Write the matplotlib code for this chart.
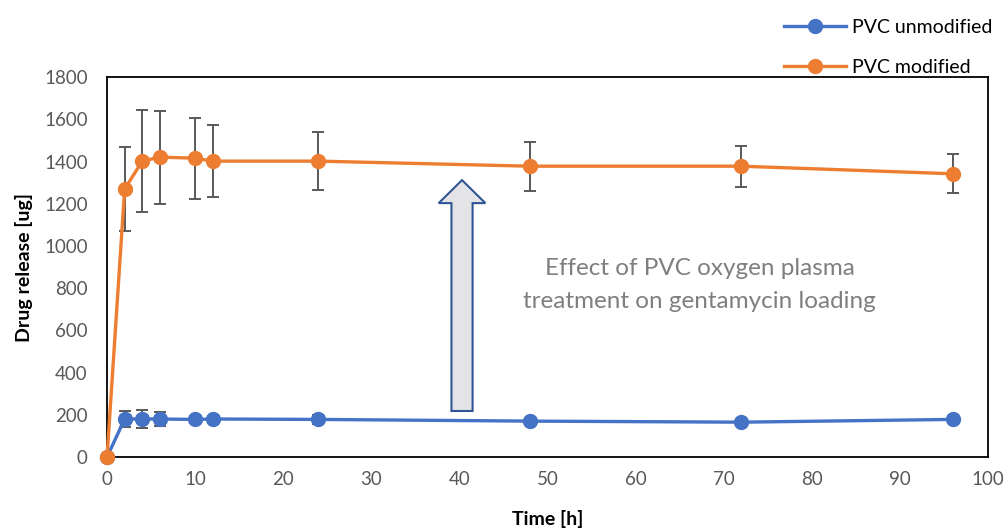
import matplotlib.pyplot as plt
from matplotlib.patches import FancyArrow
from matplotlib.lines import Line2D

# release time points [h]
time_h = [0, 2, 4, 6, 10, 12, 24, 48, 72, 96]

# PVC without plasma treatment
unmod_mean = [0, 180, 180, 180, 178, 180, 178, 170, 165, 178]
unmod_err = [0, 38, 42, 35, 15, 15, 22, 12, 10, 12]

# PVC after oxygen plasma treatment
mod_mean = [0, 1270, 1402, 1421, 1416, 1402, 1402, 1378, 1378, 1342]
mod_err = [0, 200, 242, 220, 192, 170, 137, 116, 97, 92]

plt.rcParams['font.family'] = ['Lato', 'DejaVu Sans']

fig = plt.figure(figsize=(10.06, 5.32), dpi=100)
ax = fig.add_axes([0.1064, 0.141, 0.8756, 0.714])

blue = '#4472C4'
orange = '#ED7D31'

ax.errorbar(time_h, unmod_mean, yerr=unmod_err, color=blue, lw=2.4,
            marker='o', ms=10, ecolor='#595959', elinewidth=1.4, capsize=4,
            capthick=1.4, clip_on=False, zorder=3)
ax.errorbar(time_h, mod_mean, yerr=mod_err, color=orange, lw=2.4,
            marker='o', ms=10, ecolor='#595959', elinewidth=1.4, capsize=4,
            capthick=1.4, clip_on=False, zorder=4)

# arrow showing the gain from the plasma treatment
ax.add_patch(FancyArrow(40.3, 218, 0, 1094, width=2.4, head_width=5.3,
                        head_length=109, length_includes_head=True,
                        facecolor='#e4e4e6', edgecolor='#2f5597', lw=1.5,
                        zorder=2))
ax.text(67.3, 815, 'Effect of PVC oxygen plasma\ntreatment on gentamycin loading',
        ha='center', va='center', fontsize=17.5, color='#7f7f7f',
        linespacing=1.75)

ax.set_xlim(0, 100)
ax.set_ylim(0, 1800)
ax.set_xticks(range(0, 101, 10))
ax.set_yticks(range(0, 1801, 200))
ax.tick_params(axis='y', length=0, labelsize=13.5, labelcolor='#595959', pad=14)
ax.tick_params(axis='x', length=0, labelsize=13.5, labelcolor='#595959', pad=10)
for s in ax.spines.values():
    s.set_color('black')
    s.set_linewidth(1.3)

ax.set_xlabel('Time [h]', fontsize=14, fontweight='bold', labelpad=16)
ax.set_ylabel('Drug release [ug]', fontsize=14, fontweight='bold', labelpad=8)

handles = [Line2D([], [], color=blue, lw=2.4, marker='o', ms=10),
           Line2D([], [], color=orange, lw=2.4, marker='o', ms=10)]
fig.legend(handles, ['PVC unmodified', 'PVC modified'], loc='upper right',
           bbox_to_anchor=(1.0, 0.99), frameon=False, fontsize=14,
           labelspacing=1.2, handlelength=3.2, handletextpad=0.3,
           borderaxespad=0.3)

fig.savefig('out.png', dpi=100)
